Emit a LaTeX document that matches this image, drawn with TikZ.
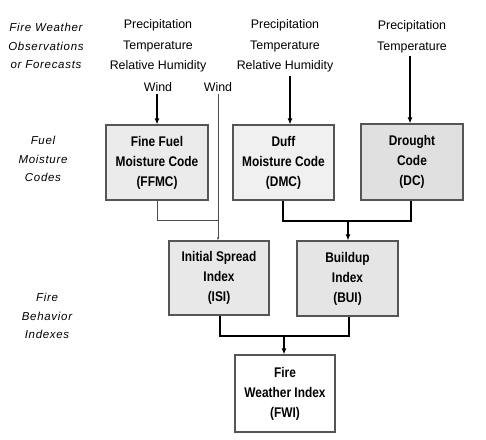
\documentclass[tikz,border=0pt]{standalone}
\usepackage{fontspec}
\setmainfont{Liberation Sans}
\newfontfamily\boxfont[FakeStretch=0.85]{Liberation Sans}
\newfontfamily\labfont[LetterSpace=6]{Liberation Sans}
\usetikzlibrary{arrows.meta}
\definecolor{boxline}{HTML}{555555}
\begin{document}
\begin{tikzpicture}[x=1pt,y=-1pt,
  codebox/.style={draw=boxline,line width=1.3pt,minimum width=#1,inner sep=0pt,
    align=center,font=\boxfont\bfseries\fontsize{14}{20}\selectfont},
  toptext/.style={align=center,inner sep=0pt,font=\fontsize{12.4}{20.7}\selectfont},
  sidelabel/.style={align=center,inner sep=0pt,font=\labfont\itshape\fontsize{11.5}{18.5}\selectfont},
  flow/.style={line width=1.1pt,-{Latex[length=6pt,width=5pt]}},
  thin/.style={line width=0.6pt,draw=black!70}]
\useasboundingbox (0,0) rectangle (486,439);
% side labels
\node[sidelabel] (l1) at (46,46) {Fire Weather\\Observations\\or Forecasts};
\node[sidelabel] (l2) at (43,159) {Fuel\\Moisture\\Codes};
\node[sidelabel] (l3) at (47,316) {Fire\\Behavior\\Indexes};
% top texts
\node[toptext] (t1) at (158,46) {Precipitation\\Temperature\\Relative Humidity};
\node[toptext] (w1) at (158,87) {Wind};
\node[toptext] (w2) at (218,87) {Wind};
\node[toptext] (t2) at (285,46) {Precipitation\\Temperature\\Relative Humidity};
\node[toptext] (t3) at (412,36.5) {Precipitation\\Temperature};
% boxes
\node[codebox=102pt,minimum height=75pt,fill=black!8] (ffmc) at (157,162.5) {Fine Fuel\\Moisture Code\\(FFMC)};
\node[codebox=101pt,minimum height=75pt,fill=black!6] (dmc) at (283.5,162.5) {Duff\\Moisture Code\\(DMC)};
\node[codebox=102pt,minimum height=76pt,fill=black!12] (dc) at (412,162) {Drought\\Code\\(DC)};
\node[codebox=100pt,minimum height=74pt,fill=black!9] (isi) at (219,278) {Initial Spread\\Index\\(ISI)};
\node[codebox=101pt,minimum height=75pt,fill=black!10] (bui) at (347.5,278.5) {Buildup\\Index\\(BUI)};
\node[codebox=100pt,minimum height=77pt,fill=white] (fwi) at (285,393.5) {Fire\\Weather Index\\(FWI)};
% junctions
\coordinate (j1) at (218,220);
\coordinate (j2) at (348,221);
\coordinate (j3) at (284,336);
% arrows into codes
\draw[flow] ([yshift=-2pt]w1.south -| ffmc.north) -- (ffmc.north);
\draw[flow] ([yshift=-3pt]t2.south -| 290,0) -- (290,0 |- dmc.north);
\draw[flow] ([yshift=-3pt]t3.south -| 410,0) -- (410,0 |- dc.north);
% wind to ISI
\draw[thin,-{Latex[length=3pt,width=2.4pt]}] ([yshift=-2pt]w2.south) -- (w2.south |- isi.north);
\draw[thin] (ffmc.south) |- (j1);
% DMC + DC to BUI
\draw[line width=1.1pt] (283,0 |- dmc.south) |- (j2) -| (411,0 |- dc.south);
\draw[flow] (j2) -- (j2 |- bui.north);
% ISI + BUI to FWI
\draw[line width=1.1pt] (220,0 |- isi.south) |- (j3) -| (349,0 |- bui.south);
\draw[flow] (j3) -- (j3 |- fwi.north);
\end{tikzpicture}
\end{document}
